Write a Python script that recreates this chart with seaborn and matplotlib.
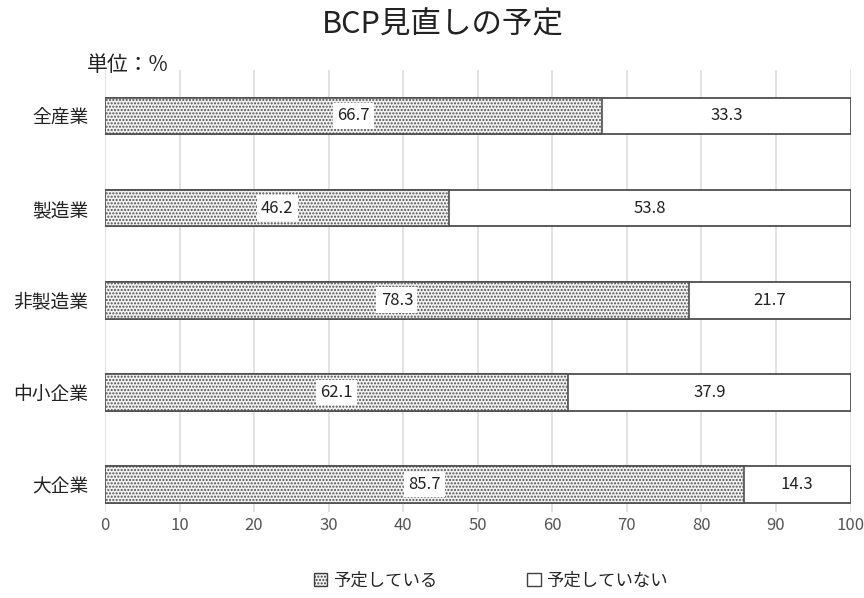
import matplotlib
matplotlib.use('Agg')
import matplotlib.pyplot as plt
from matplotlib.patches import Patch
import seaborn as sns
import pandas as pd

# data
categories = ['全産業', '製造業', '非製造業', '中小企業', '大企業']
planned = [66.7, 46.2, 78.3, 62.1, 85.7]
not_planned = [33.3, 53.8, 21.7, 37.9, 14.3]
series_names = ['予定している', '予定していない']
x_ticks = [0, 10, 20, 30, 40, 50, 60, 70, 80, 90, 100]

sns.set_style('white')
plt.rcParams['font.family'] = ['Noto Sans CJK JP', 'DejaVu Sans']
plt.rcParams['hatch.color'] = '#6a6a6a'
plt.rcParams['hatch.linewidth'] = 1.0

df = pd.DataFrame({'cat': categories, 'planned': planned, 'not_planned': not_planned})
df['total'] = df['planned'] + df['not_planned']

fig = plt.figure(figsize=(8.64, 5.98), dpi=100)
ax = fig.add_axes([0.1215, 0.144, 0.863, 0.739])

# full bar (white) then the planned part on top
sns.barplot(data=df, x='total', y='cat', orient='h', color='white',
            edgecolor='#404040', linewidth=1.2, width=0.4, ax=ax, saturation=1)
sns.barplot(data=df, x='planned', y='cat', orient='h', color='#f2f2f2',
            edgecolor='#505050', linewidth=1.2, width=0.4, ax=ax, saturation=1)
for p in ax.containers[1]:
    p.set_hatch('.....')

# segment labels
ax.bar_label(ax.containers[1], labels=[f'{v:.1f}' for v in planned], label_type='center',
             fontsize=12, color='#222222',
             bbox=dict(boxstyle='square,pad=0.25', facecolor='white', edgecolor='none'))
for i, (a, b) in enumerate(zip(planned, not_planned)):
    ax.text(a + b / 2, i, f'{b:.1f}', ha='center', va='center', fontsize=12, color='#222222')

ax.set_xlim(0, 100)
ax.set_ylim(4.3, -0.5)
ax.set_xticks(x_ticks)
ax.tick_params(axis='x', colors='#555555', labelsize=12, length=0, pad=4)
ax.tick_params(axis='y', labelsize=13.5, length=0, pad=12, labelcolor='#222222')
ax.set_xlabel('')
ax.set_ylabel('')
ax.xaxis.grid(True, color='#dddddd', linewidth=1.2)
ax.set_axisbelow(True)
for s in ax.spines.values():
    s.set_visible(False)

fig.suptitle('BCP見直しの予定', x=0.513, y=0.985, fontsize=22, color='#222222')
fig.text(0.1, 0.882, '単位：%', fontsize=15, color='#222222')

handles = [Patch(facecolor='#f2f2f2', edgecolor='#404040', hatch='.....'),
           Patch(facecolor='white', edgecolor='#404040')]
fig.legend(handles, series_names, loc='lower center', bbox_to_anchor=(0.568, -0.012),
           ncol=2, frameon=False, fontsize=12.5, columnspacing=5.2, handlelength=0.8,
           handleheight=0.8, handletextpad=0.3)

fig.savefig('out.png', dpi=100)
